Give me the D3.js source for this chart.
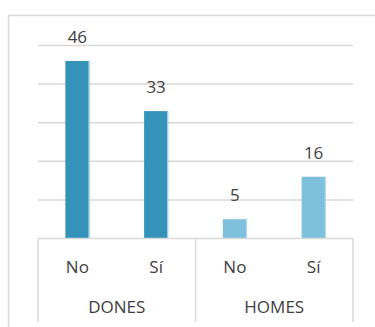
<!DOCTYPE html>
<html>
<head>
<meta charset="utf-8">
<script src="https://cdn.jsdelivr.net/npm/d3@7"></script>
<style>
  html, body { margin: 0; padding: 0; background: #fff; }
  svg { display: block; }
  text { font-family: "Open Sans", sans-serif; fill: #404040; }
</style>
</head>
<body>
<svg id="chart" width="375" height="327"></svg>
<script>
const groups = ["DONES", "HOMES"];
const answers = ["No", "Sí"];
const values = [46, 33, 5, 16];
const groupColors = ["#3592B9", "#7FC1DC"];
const yTicks = [10, 20, 30, 40, 50];

const rows = [];
groups.forEach((g, gi) => answers.forEach((a, ai) => {
  rows.push({ group: g, gi, answer: a, key: g + "|" + a, value: values[gi * answers.length + ai] });
}));

const svg = d3.select("#chart");
const plotLeft = 38, plotRight = 353, plotTop = 45.5, plotBase = 238.5;

const x = d3.scaleBand()
  .domain(rows.map(d => d.key))
  .range([plotLeft, plotRight])
  .paddingInner(0.695)
  .paddingOuter(0.3475);
const y = d3.scaleLinear().domain([0, 50]).range([plotBase, plotTop]);
const step = x.step();
const slotStart = k => x(k) - x.paddingOuter() * step;

// outer chart border
svg.append("rect")
  .attr("x", 8.5).attr("y", 15.5)
  .attr("width", 400).attr("height", 400)
  .attr("fill", "none").attr("stroke", "#D9D9D9").attr("stroke-width", 1.5);

// gridlines
svg.append("g").selectAll("line").data(yTicks).join("line")
  .attr("x1", plotLeft).attr("x2", plotRight)
  .attr("y1", d => y(d)).attr("y2", d => y(d))
  .attr("stroke", "#D9D9D9").attr("stroke-width", 1.5);

// bars
svg.append("g").selectAll("rect").data(rows).join("rect")
  .attr("x", d => x(d.key))
  .attr("y", d => y(d.value))
  .attr("width", x.bandwidth())
  .attr("height", d => plotBase - y(d.value))
  .attr("fill", d => groupColors[d.gi]);
svg.append("g").selectAll("line").data(rows).join("line")
  .attr("x1", d => x(d.key) + x.bandwidth() - 0.5)
  .attr("x2", d => x(d.key) + x.bandwidth() - 0.5)
  .attr("y1", d => y(d.value)).attr("y2", plotBase)
  .attr("stroke", "#A8DAEE").attr("stroke-width", 1);

// value labels
svg.append("g").selectAll("text").data(rows).join("text")
  .attr("x", d => x(d.key) + x.bandwidth() / 2)
  .attr("y", d => y(d.value) - 18)
  .attr("text-anchor", "middle")
  .attr("font-size", "17px")
  .text(d => d.value);

// category axis
const axisG = svg.append("g");
axisG.append("line")
  .attr("x1", plotLeft).attr("x2", plotRight).attr("y1", plotBase).attr("y2", plotBase)
  .attr("stroke", "#D9D9D9").attr("stroke-width", 1.5);
const dividers = groups.map((g, gi) => slotStart(rows[gi * answers.length].key)).concat([plotRight]);
axisG.selectAll("line.div").data(dividers).join("line")
  .attr("class", "div")
  .attr("x1", d => d).attr("x2", d => d)
  .attr("y1", plotBase).attr("y2", 322)
  .attr("stroke", "#D9D9D9").attr("stroke-width", 1.5);

axisG.selectAll("text.ans").data(rows).join("text")
  .attr("class", "ans")
  .attr("x", d => x(d.key) + x.bandwidth() / 2)
  .attr("y", 273)
  .attr("text-anchor", "middle")
  .attr("font-size", "17px")
  .text(d => d.answer);

axisG.selectAll("text.grp").data(groups).join("text")
  .attr("class", "grp")
  .attr("x", (g, gi) => (dividers[gi] + dividers[gi + 1]) / 2)
  .attr("y", 313)
  .attr("text-anchor", "middle")
  .attr("font-size", "17px")
  .text(d => d);
</script>
</body>
</html>
